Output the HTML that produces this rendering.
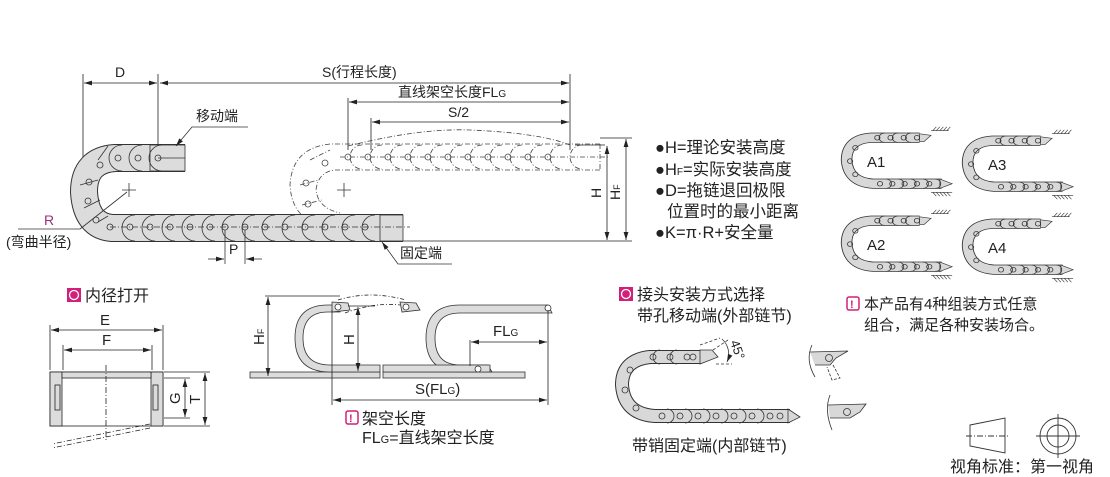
<!DOCTYPE html>
<html><head><meta charset="utf-8"><style>
html,body{margin:0;padding:0;background:#fff;}
svg{display:block;font-family:"Liberation Sans","Noto Sans CJK SC",sans-serif;}
</style></head><body>
<svg width="1110" height="477" viewBox="0 0 1110 477" xmlns="http://www.w3.org/2000/svg">
<defs>
<marker id="a" viewBox="0 0 10 6" refX="10" refY="3" markerWidth="10" markerHeight="6" orient="auto-start-reverse"><path d="M0,0L10,3L0,6z" fill="#222"/></marker>
<g id="mini">
 <path d="M95,15 L40,15 Q12,17 12,44 Q14,72 42,74 L120,74" fill="none" stroke="#333" stroke-width="13"/>
 <path d="M95,15 L40,15 Q12,17 12,44 Q14,72 42,74 L120,74" fill="none" stroke="#d8d8d8" stroke-width="11"/>
 <path d="M95,10 L108,12 L100,20 L95,20z" fill="#d8d8d8" stroke="#333" stroke-width="0.8"/>
 <path d="M118,68 L132,74 L118,80z" fill="#d8d8d8" stroke="#333" stroke-width="0.8"/>
 <g fill="none" stroke="#333" stroke-width="0.9">
  <circle cx="47" cy="15" r="3"/><circle cx="62" cy="15" r="3"/><circle cx="77" cy="15" r="3"/><circle cx="92" cy="15" r="3"/>
  <circle cx="22" cy="28" r="3"/><circle cx="16" cy="45" r="3"/><circle cx="22" cy="62" r="3"/>
  <circle cx="50" cy="74" r="3"/><circle cx="64" cy="74" r="3"/><circle cx="78" cy="74" r="3"/><circle cx="92" cy="74" r="3"/><circle cx="106" cy="74" r="3"/>
  <path d="M55,9 A6,6 0 0 0 55,21 M70,9 A6,6 0 0 0 70,21 M85,9 A6,6 0 0 0 85,21 M57,68 A6,6 0 0 1 57,80 M71,68 A6,6 0 0 1 71,80 M85,68 A6,6 0 0 1 85,80 M99,68 A6,6 0 0 1 99,80 M113,68 A6,6 0 0 1 113,80"/>
 </g>
 <g stroke="#333" stroke-width="0.7"><path d="M108,6 L128,6 M110,6 l4,-5 M114,6 l4,-5 M118,6 l4,-5 M122,6 l4,-5 M126,6 l4,-5"/>
 <path d="M108,85 L132,85 M110,85 l4,5 M114,85 l4,5 M118,85 l4,5 M122,85 l4,5 M126,85 l4,5"/></g>
</g>
</defs>

<!-- ===== TOP MAIN DIAGRAM ===== -->
<g stroke="#222" stroke-width="0.8" fill="none">
 <line x1="83" y1="74" x2="83" y2="212"/>
 <line x1="158" y1="74" x2="158" y2="158"/>
 <line x1="570" y1="74" x2="570" y2="150"/>
 <line x1="348" y1="98" x2="348" y2="150"/>
 <line x1="371" y1="118" x2="371" y2="150"/>
 <line x1="84" y1="83" x2="157" y2="83" marker-start="url(#a)" marker-end="url(#a)"/>
 <line x1="160" y1="83" x2="569" y2="83" marker-start="url(#a)" marker-end="url(#a)"/>
 <line x1="349" y1="102" x2="569" y2="102" marker-start="url(#a)" marker-end="url(#a)"/>
 <line x1="372" y1="122" x2="569" y2="122" marker-start="url(#a)" marker-end="url(#a)"/>
 <line x1="575" y1="145" x2="605" y2="145"/>
 <line x1="403" y1="241" x2="632" y2="241"/>
 <line x1="600" y1="138" x2="632" y2="138"/>
 <line x1="607" y1="146" x2="607" y2="240" marker-start="url(#a)" marker-end="url(#a)"/>
 <line x1="626" y1="139" x2="626" y2="240" marker-start="url(#a)" marker-end="url(#a)"/>
</g>
<g font-size="14" fill="#222">
 <text x="115" y="77">D</text>
 <text x="322" y="77">S(行程长度)</text>
 <text x="398" y="97">直线架空长度FL<tspan font-size="10">G</tspan></text>
 <text x="448" y="117">S/2</text>
 <text x="0" y="0" transform="translate(601,198) rotate(-90)">H</text>
 <text x="0" y="0" transform="translate(620,200) rotate(-90)">H<tspan font-size="9">F</tspan></text>
</g>

<!-- ghost chain -->
<g fill="none" stroke="#444" stroke-width="0.8" stroke-dasharray="5,2,1,2">
 <path d="M600,144 L330,144 Q292,148 290,185 Q292,222 328,226"/>
 <path d="M600,170 L335,170 Q318,172 316,190 Q318,208 340,213"/>
 <line x1="600" y1="144" x2="600" y2="170"/>
 <path d="M348,146 Q420,128 470,130 Q540,133 570,145"/>
 <line x1="340" y1="157" x2="610" y2="157"/>
 <path d="M362,145 A12,12 0 0 0 362,169 M382,145 A12,12 0 0 0 382,169 M402,145 A12,12 0 0 0 402,169 M422,145 A12,12 0 0 0 422,169 M442,145 A12,12 0 0 0 442,169 M462,145 A12,12 0 0 0 462,169 M482,145 A12,12 0 0 0 482,169 M502,145 A12,12 0 0 0 502,169 M522,145 A12,12 0 0 0 522,169 M542,145 A12,12 0 0 0 542,169 M562,145 A12,12 0 0 0 562,169 M582,145 A12,12 0 0 0 582,169"/>
 <path d="M310,160 L330,150 M300,185 L318,180 M302,205 L322,200"/>
</g>
<g fill="none" stroke="#444" stroke-width="0.8">
 <circle cx="348" cy="157" r="3"/><circle cx="368" cy="157" r="3"/><circle cx="388" cy="157" r="3"/><circle cx="408" cy="157" r="3"/><circle cx="428" cy="157" r="3"/><circle cx="448" cy="157" r="3"/><circle cx="468" cy="157" r="3"/><circle cx="488" cy="157" r="3"/><circle cx="508" cy="157" r="3"/><circle cx="528" cy="157" r="3"/><circle cx="548" cy="157" r="3"/>
 <circle cx="325" cy="163" r="3"/><circle cx="306" cy="183" r="3"/><circle cx="308" cy="204" r="3"/>
</g>

<!-- main chain -->
<path d="M185,158 L115,158 Q84,160 84,192 Q86,226 112,228 L403,228" fill="none" stroke="#333" stroke-width="28"/>
<path d="M185,158 L115,158 Q84,160 84,192 Q86,226 112,228 L403,228" fill="none" stroke="#dcdcdc" stroke-width="26"/>
<rect x="150" y="145" width="35" height="26" fill="#dcdcdc" stroke="#333" stroke-width="0.8"/>
<rect x="380" y="215" width="23" height="26" fill="#dcdcdc" stroke="#333" stroke-width="0.8"/>
<g fill="none" stroke="#333" stroke-width="0.8">
 <path d="M122,145 A13,13 0 0 0 122,171 M142,145 A13,13 0 0 0 142,171 M162,145 A13,13 0 0 0 162,171"/>
 <path d="M135,215 A13,13 0 0 0 135,241 M155,215 A13,13 0 0 0 155,241 M175,215 A13,13 0 0 0 175,241 M195,215 A13,13 0 0 0 195,241 M215,215 A13,13 0 0 0 215,241 M235,215 A13,13 0 0 0 235,241 M255,215 A13,13 0 0 0 255,241 M275,215 A13,13 0 0 0 275,241 M295,215 A13,13 0 0 0 295,241 M315,215 A13,13 0 0 0 315,241 M335,215 A13,13 0 0 0 335,241 M355,215 A13,13 0 0 0 355,241 M375,215 A13,13 0 0 0 375,241"/>
 <path d="M98,160 L108,146 M80,185 L98,180 M84,208 L100,200 M98,222 L108,216"/>
 <circle cx="118" cy="158" r="3"/><circle cx="138" cy="158" r="3"/><circle cx="158" cy="158" r="3"/>
 <circle cx="100" cy="165" r="3"/><circle cx="89" cy="182" r="3"/><circle cx="88" cy="201" r="3"/><circle cx="96" cy="220" r="3"/>
 <circle cx="110" cy="227" r="3"/><circle cx="130" cy="227" r="3"/><circle cx="150" cy="227" r="3"/><circle cx="170" cy="227" r="3"/><circle cx="190" cy="227" r="3"/><circle cx="210" cy="227" r="3"/><circle cx="225" cy="227" r="3"/><circle cx="245" cy="227" r="3"/><circle cx="265" cy="227" r="3"/><circle cx="285" cy="227" r="3"/><circle cx="305" cy="227" r="3"/><circle cx="325" cy="227" r="3"/><circle cx="345" cy="227" r="3"/><circle cx="365" cy="227" r="3"/>
 <line x1="110" y1="227" x2="410" y2="227" stroke-dasharray="6,2,1,2"/>
 <line x1="158" y1="158" x2="185" y2="158"/>
 <path d="M122,190 H136 M129,183 V197 M337,190 H351 M344,183 V197"/>
 <line x1="18" y1="229" x2="80" y2="229"/>
 <line x1="80" y1="229" x2="127" y2="192"/>
 <line x1="225" y1="230" x2="225" y2="264"/><line x1="245" y1="230" x2="245" y2="264"/>
 <line x1="208" y1="259" x2="224" y2="259" marker-end="url(#a)"/>
 <line x1="262" y1="259" x2="246" y2="259" marker-end="url(#a)"/>
 <path d="M248,127 H192 L176,146" marker-end="url(#a)"/>
 <path d="M452,264 H398 L382,242" marker-end="url(#a)"/>
</g>
<g font-size="14" fill="#222">
 <text x="196" y="121">移动端</text>
 <text x="400" y="258">固定端</text>
 <text x="229" y="254">P</text>
 <text x="44" y="225" fill="#a0307a">R</text>
 <text x="6" y="247">(弯曲半径)</text>
</g>

<!-- legend -->
<g font-size="16.5" fill="#222">
 <text x="655" y="153">●H=理论安装高度</text>
 <text x="655" y="175">●H<tspan font-size="10">F</tspan>=实际安装高度</text>
 <text x="655" y="196">●D=拖链退回极限</text>
 <text x="667" y="217">位置时的最小距离</text>
 <text x="655" y="238">●K=π·R+安全量</text>
</g>

<!-- A1-A4 -->
<use href="#mini" transform="translate(836,126) scale(0.88,0.78)"/>
<use href="#mini" transform="translate(957,129) scale(0.88,0.78)"/>
<use href="#mini" transform="translate(836,209) scale(0.88,0.78)"/>
<use href="#mini" transform="translate(957,212) scale(0.88,0.78)"/>
<g font-size="15" fill="#222">
 <text x="867" y="167">A1</text><text x="988" y="170">A3</text>
 <text x="867" y="250">A2</text><text x="988" y="253">A4</text>
</g>
<rect x="847" y="297" width="12" height="13" rx="2" fill="none" stroke="#d0207a" stroke-width="1.5"/>
<text x="850" y="308" font-size="11" font-weight="bold" fill="#d0207a">!</text>
<g font-size="15" fill="#222">
 <text x="864" y="309">本产品有4种组装方式任意</text>
 <text x="864" y="330">组合，满足各种安装场合。</text>
</g>

<!-- connector selection -->
<rect x="619" y="287" width="14" height="14" fill="#d0207a"/>
<circle cx="626" cy="294" r="4.5" fill="none" stroke="#fff" stroke-width="1.3"/>
<g font-size="16" fill="#222">
 <text x="637" y="300">接头安装方式选择</text>
 <text x="637" y="321">带孔移动端(外部链节)</text>
 <text x="632" y="451">带销固定端(内部链节)</text>
</g>
<path d="M700,357 L650,357 Q622,360 622,385 Q624,414 655,416 L790,416" fill="none" stroke="#333" stroke-width="14"/>
<path d="M700,357 L650,357 Q622,360 622,385 Q624,414 655,416 L790,416" fill="none" stroke="#d8d8d8" stroke-width="12"/>
<path d="M700,350 L712,350 L718,357 L700,364z" fill="#d8d8d8" stroke="#333" stroke-width="0.8"/>
<path d="M788,409 L800,417 L788,423z" fill="#d8d8d8" stroke="#333" stroke-width="0.8"/>
<g fill="none" stroke="#333" stroke-width="0.8">
 <circle cx="653" cy="357" r="3"/><circle cx="670" cy="357" r="3"/><circle cx="687" cy="357" r="3"/><circle cx="693" cy="357" r="3"/>
 <circle cx="630" cy="370" r="3"/><circle cx="625" cy="390" r="3"/><circle cx="636" cy="408" r="3"/>
 <circle cx="662" cy="416" r="3"/><circle cx="680" cy="416" r="3"/><circle cx="698" cy="416" r="3"/><circle cx="716" cy="416" r="3"/><circle cx="734" cy="416" r="3"/><circle cx="752" cy="416" r="3"/><circle cx="770" cy="416" r="3"/><circle cx="780" cy="416" r="3"/>
 <path d="M660,350 A7,7 0 0 0 660,364 M677,350 A7,7 0 0 0 677,364 M667,409 A7,7 0 0 1 667,423 M685,409 A7,7 0 0 1 685,423 M703,409 A7,7 0 0 1 703,423 M721,409 A7,7 0 0 1 721,423 M739,409 A7,7 0 0 1 739,423 M757,409 A7,7 0 0 1 757,423"/>
 <path d="M713,350 L728,340 M700,345 L720,338 M716,364 L732,364" stroke-dasharray="3,2"/>
 <path d="M722,339 A20,20 0 0 1 727,362" marker-end="url(#a)"/>
</g>
<text x="0" y="0" transform="translate(730,342) rotate(70)" font-size="13" fill="#222">45°</text>
<g fill="none" stroke="#333" stroke-width="0.8">
 <path d="M812,345 Q805,360 815,377"/>
 <path d="M810,352 L848,351 L836,358 L830,365 L815,365" fill="#d8d8d8"/>
 <circle cx="829" cy="358" r="3.5"/>
 <path d="M833,365 L840,378 L832,380 L827,367" stroke-dasharray="3,1.5"/>
 <path d="M830,395 Q824,410 832,430"/>
 <path d="M828,405 L866,404 L860,412 L850,418 L830,418" fill="#d8d8d8"/>
 <circle cx="847" cy="412" r="3.5"/>
</g>

<!-- view symbol -->
<g fill="none" stroke="#333" stroke-width="0.9">
 <path d="M970,425 L1005,418 L1005,453 L970,446z"/>
 <line x1="966" y1="436" x2="1009" y2="436" stroke-dasharray="6,2,1,2"/>
 <circle cx="1058" cy="436" r="18"/><circle cx="1058" cy="436" r="11"/>
 <line x1="1036" y1="436" x2="1080" y2="436"/><line x1="1058" y1="414" x2="1058" y2="458"/>
</g>
<text x="950" y="472" font-size="16" fill="#222">视角标准：第一视角</text>

<!-- inner diameter open -->
<rect x="67" y="288" width="14" height="14" fill="#d0207a"/>
<circle cx="74" cy="295" r="4.5" fill="none" stroke="#fff" stroke-width="1.3"/>
<text x="85" y="301" font-size="16" fill="#222">内径打开</text>
<g fill="none" stroke="#222" stroke-width="0.8">
 <line x1="50" y1="325" x2="50" y2="370"/><line x1="163" y1="325" x2="163" y2="370"/>
 <line x1="63" y1="345" x2="63" y2="370"/><line x1="152" y1="345" x2="152" y2="370"/>
 <line x1="51" y1="330" x2="162" y2="330" marker-start="url(#a)" marker-end="url(#a)"/>
 <line x1="64" y1="350" x2="151" y2="350" marker-start="url(#a)" marker-end="url(#a)"/>
 <rect x="50" y="372" width="113" height="54" fill="#fff"/>
 <rect x="50" y="372" width="12" height="54" fill="#dcdcdc"/>
 <rect x="151" y="372" width="12" height="54" fill="#dcdcdc"/>
 <rect x="62" y="372" width="89" height="6" fill="#dcdcdc"/>
 <rect x="55" y="385" width="5" height="25"/><rect x="153" y="385" width="5" height="25"/>
 <line x1="106" y1="365" x2="106" y2="440" stroke-dasharray="6,2,1,2"/>
 <line x1="164" y1="378" x2="190" y2="378"/><line x1="164" y1="418" x2="190" y2="418"/>
 <line x1="164" y1="372" x2="210" y2="372"/><line x1="164" y1="426" x2="210" y2="426"/>
 <line x1="185" y1="379" x2="185" y2="417" marker-start="url(#a)" marker-end="url(#a)"/>
 <line x1="205" y1="373" x2="205" y2="425" marker-start="url(#a)" marker-end="url(#a)"/>
 <path d="M150,424 L52,444 M150,428 L52,448" stroke-dasharray="5,2,1,2"/>
</g>
<g font-size="15" fill="#222">
 <text x="100" y="325">E</text><text x="102" y="345">F</text>
 <text x="0" y="0" transform="translate(180,404) rotate(-90)">G</text>
 <text x="0" y="0" transform="translate(200,404) rotate(-90)">T</text>
</g>

<!-- overhang diagram -->
<g stroke="#333" stroke-width="0.8">
 <rect x="250" y="372" width="130" height="6" fill="#dcdcdc"/>
 <rect x="383" y="372" width="142" height="6" fill="#dcdcdc"/>
 <path d="M340,305 L328,305 Q295,305 295,338 Q295,372 330,372 L380,372 L380,365 L330,365 Q303,365 303,338 Q303,312 328,312 L340,312z" fill="#dcdcdc"/>
 <path d="M460,305 L548,305 L552,313 L460,313 Q435,313 435,338 Q435,365 460,365 L488,365 L492,372 L460,372 Q426,372 426,338 Q426,305 460,305z" fill="#dcdcdc"/>
 <path d="M383,365 L490,365 L490,372 L383,372z" fill="#dcdcdc"/>
 <path d="M332,302 L348,303 L350,310 L332,312z" fill="#dcdcdc"/>
 <path d="M400,302 L416,303 L420,310 L402,312z" fill="#dcdcdc" />
 <circle cx="338" cy="307" r="3" fill="#fff"/><circle cx="406" cy="307" r="3" fill="#fff"/>
 <circle cx="548" cy="308" r="3" fill="#fff"/><circle cx="478" cy="369" r="3" fill="#fff"/>
</g>
<g fill="none" stroke="#222" stroke-width="0.8">
 <path d="M338,300 Q370,290 406,300" stroke-dasharray="4,2,1,2"/>
 <path d="M345,313 Q375,302 400,305" stroke-dasharray="4,2,1,2"/>
 <line x1="265" y1="296" x2="340" y2="296"/>
 <line x1="268" y1="297" x2="268" y2="376" marker-start="url(#a)" marker-end="url(#a)"/>
 <line x1="348" y1="306" x2="375" y2="306"/>
 <line x1="358" y1="307" x2="358" y2="371" marker-start="url(#a)" marker-end="url(#a)"/>
 <line x1="332" y1="310" x2="332" y2="405"/>
 <line x1="548" y1="310" x2="548" y2="405"/>
 <line x1="470" y1="340" x2="470" y2="366"/>
 <line x1="471" y1="342" x2="547" y2="342" marker-start="url(#a)" marker-end="url(#a)"/>
 <line x1="333" y1="400" x2="547" y2="400" marker-start="url(#a)" marker-end="url(#a)"/>
</g>
<g font-size="15" fill="#222">
 <text x="0" y="0" transform="translate(264,345) rotate(-90)">H<tspan font-size="9">F</tspan></text>
 <text x="0" y="0" transform="translate(354,345) rotate(-90)">H</text>
 <text x="493" y="336">FL<tspan font-size="10">G</tspan></text>
 <text x="415" y="394">S(FL<tspan font-size="10">G</tspan>)</text>
</g>
<rect x="346" y="411" width="12" height="13" rx="2" fill="none" stroke="#d0207a" stroke-width="1.5"/>
<text x="349" y="422" font-size="11" font-weight="bold" fill="#d0207a">!</text>
<g font-size="16" fill="#222">
 <text x="362" y="424">架空长度</text>
 <text x="362" y="443">FL<tspan font-size="11">G</tspan>=直线架空长度</text>
</g>
</svg>
</body></html>
